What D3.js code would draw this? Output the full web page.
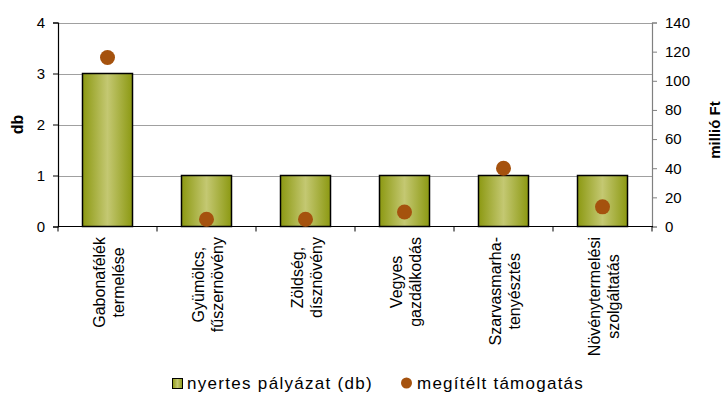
<!DOCTYPE html>
<html>
<head>
<meta charset="utf-8">
<script src="https://cdn.jsdelivr.net/npm/d3@7"></script>
<style>
  html, body { margin: 0; padding: 0; background: #fff; }
  svg { display: block; font-family: "Liberation Sans", Arial, sans-serif; }
</style>
</head>
<body>
<svg id="chart" width="723" height="394"></svg>
<script>
// Ágazatonkénti nyertes pályázatok és megítélt támogatás
const categories = [
  ["Gabonafélék", "termelése"],
  ["Gyümölcs,", "fűszernövény"],
  ["Zöldség,", "dísznövény"],
  ["Vegyes", "gazdálkodás"],
  ["Szarvasmarha-", "tenyésztés"],
  ["Növénytermelési", "szolgáltatás"]
];
const palyazat = [3, 1, 1, 1, 1, 1];          // db
const tamogatas = [116, 5, 5, 10, 40, 13.5];  // millió Ft
const leftTicks = [0, 1, 2, 3, 4];
const rightTicks = [0, 20, 40, 60, 80, 100, 120, 140];
const legendLabels = ["nyertes pályázat (db)", "megítélt támogatás"];

const svg = d3.select("#chart");
const plot = { left: 58, right: 652, top: 22.5, bottom: 226.5 };

const x = d3.scaleBand()
  .domain(d3.range(categories.length))
  .range([plot.left, plot.right]);
const yL = d3.scaleLinear().domain([0, 4]).range([plot.bottom, plot.top]);
const yR = d3.scaleLinear().domain([0, 140]).range([plot.bottom, plot.top]);

// bar fill: darker olive edges, lighter centre
const defs = svg.append("defs");
const grad = defs.append("linearGradient").attr("id", "barGrad")
  .attr("x1", "0%").attr("x2", "100%").attr("y1", "0%").attr("y2", "0%");
grad.append("stop").attr("offset", "0%").attr("stop-color", "#8c9912");
grad.append("stop").attr("offset", "50%").attr("stop-color", "#c4c872");
grad.append("stop").attr("offset", "100%").attr("stop-color", "#8c9912");

// gridlines
svg.append("g")
  .selectAll("line")
  .data(leftTicks.filter(d => d > 0))
  .join("line")
  .attr("x1", plot.left).attr("x2", plot.right)
  .attr("y1", d => Math.round(yL(d)) + 0.5).attr("y2", d => Math.round(yL(d)) + 0.5)
  .attr("stroke", "#a0a0a0").attr("stroke-width", 1);

// bars
const barW = 50;
svg.append("g")
  .selectAll("rect")
  .data(palyazat)
  .join("rect")
  .attr("x", (d, i) => x(i) + x.bandwidth() / 2 - barW / 2)
  .attr("y", d => yL(d))
  .attr("width", barW)
  .attr("height", d => yL(0) - yL(d))
  .attr("fill", "url(#barGrad)")
  .attr("stroke", "#000").attr("stroke-width", 1.5);

// left axis
const axL = svg.append("g").attr("transform", `translate(${plot.left},0)`)
  .call(d3.axisLeft(yL).tickValues(leftTicks).tickSize(5).tickPadding(8).tickFormat(d3.format("d")));
axL.select(".domain").attr("stroke", "#000").attr("stroke-width", 1.2);
axL.selectAll(".tick line").attr("stroke", "#000");
axL.selectAll("text").attr("font-size", 15).attr("fill", "#000");

// right axis
const axR = svg.append("g").attr("transform", `translate(${plot.right},0)`)
  .call(d3.axisRight(yR).tickValues(rightTicks).tickSize(5).tickPadding(8).tickFormat(d3.format("d")));
axR.select(".domain").attr("stroke", "#808080").attr("stroke-width", 1.2);
axR.selectAll(".tick line").attr("stroke", "#808080");
axR.selectAll("text").attr("font-size", 15).attr("fill", "#000");

// category axis with boundary ticks
svg.append("line")
  .attr("x1", plot.left).attr("x2", plot.right + 1)
  .attr("y1", plot.bottom).attr("y2", plot.bottom)
  .attr("stroke", "#000").attr("stroke-width", 1.2);
svg.append("g").selectAll("line")
  .data(d3.range(categories.length + 1))
  .join("line")
  .attr("x1", i => i < categories.length ? x(i) : plot.right)
  .attr("x2", i => i < categories.length ? x(i) : plot.right)
  .attr("y1", plot.bottom).attr("y2", plot.bottom + 5)
  .attr("stroke", "#000");

// rotated two-line category labels, block aligned to the axis, lines centred
const catG = svg.append("g").selectAll("text")
  .data(categories)
  .join("text")
  .attr("transform", (d, i) => `translate(${x(i) + x.bandwidth() / 2},${plot.bottom + 10.5}) rotate(-90)`)
  .attr("text-anchor", "middle")
  .attr("font-size", 16)
  .attr("fill", "#000");
catG.each(function (d) {
  const t = d3.select(this);
  d.forEach((line, k) => {
    t.append("tspan")
      .attr("x", 0)
      .attr("y", k === 0 ? -3 : 16)
      .text(line);
  });
  let maxW = 0;
  t.selectAll("tspan").each(function () { maxW = Math.max(maxW, this.getComputedTextLength()); });
  t.selectAll("tspan").attr("x", -maxW / 2);
});

// support amount dots
svg.append("g")
  .selectAll("circle")
  .data(tamogatas)
  .join("circle")
  .attr("cx", (d, i) => x(i) + x.bandwidth() / 2)
  .attr("cy", d => yR(d))
  .attr("r", 7.5)
  .attr("fill", "#a5520e");

// axis titles
svg.append("text")
  .attr("transform", `translate(23,${(plot.top + plot.bottom) / 2}) rotate(-90)`)
  .attr("text-anchor", "middle")
  .attr("font-size", 16).attr("font-weight", "bold")
  .text("db");
svg.append("text")
  .attr("transform", `translate(720,130) rotate(-90)`)
  .attr("text-anchor", "middle")
  .attr("font-size", 15).attr("font-weight", "bold")
  .text("millió Ft");

// legend
const lg = svg.append("g");
lg.append("rect")
  .attr("x", 172.5).attr("y", 378.5).attr("width", 10).attr("height", 10)
  .attr("fill", "url(#barGrad)").attr("stroke", "#000").attr("stroke-width", 1);
lg.append("text").attr("x", 187).attr("y", 389)
  .attr("font-size", 17).attr("letter-spacing", 1.3).text(legendLabels[0]);
lg.append("circle").attr("cx", 406.5).attr("cy", 383).attr("r", 5.5).attr("fill", "#a5520e");
lg.append("text").attr("x", 417).attr("y", 389)
  .attr("font-size", 17).attr("letter-spacing", 1.25).text(legendLabels[1]);
</script>
</body>
</html>
